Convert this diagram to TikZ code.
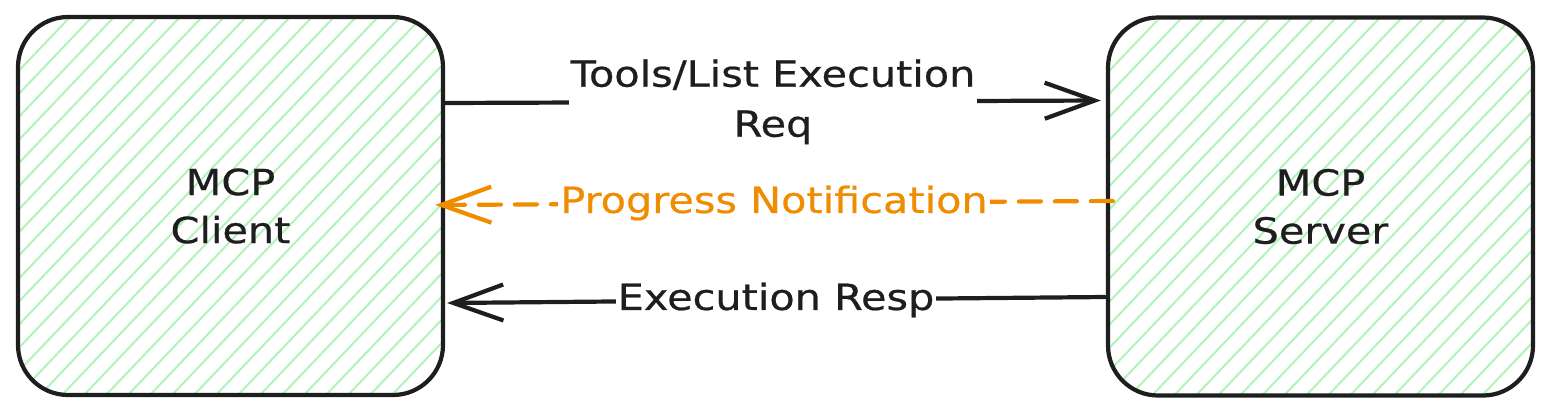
\documentclass[tikz,border=0pt]{standalone}
\usepackage{fontspec}
\setmainfont{DejaVu Sans}[FakeStretch=1.15,FakeBold=0.6]
\usetikzlibrary{arrows.meta}
\definecolor{hatchc}{HTML}{B2F2BB}
\definecolor{ink}{HTML}{1E1E1E}
\definecolor{orng}{HTML}{F08C00}
\tikzset{
  box/.style={draw=ink, line width=2.1pt, rounded corners=25pt,
    minimum width=212.5pt, minimum height=189pt, inner sep=0pt,
    align=center, text=ink, font=\fontsize{18}{24}\selectfont,
    path picture={
      \foreach \k in {-19,...,21}{
        \draw[hatchc, line width=1pt]
          ([xshift=\k*11pt]path picture bounding box.south west) -- ++(200pt,210pt);
      }
    }},
  arr/.style={draw=ink, line width=2.1pt, line cap=round,
    -{Straight Barb[length=25pt,width=18pt]}},
  darr/.style={draw=orng, line width=2.1pt, line cap=round,
    dash pattern=on 11pt off 7pt,
    -{Straight Barb[length=25pt,width=18pt]}},
  lbl/.style={fill=white, inner xsep=1pt, inner ysep=0pt, align=center,
    text=ink, font=\fontsize{18}{25}\selectfont},
}
\begin{document}
\begin{tikzpicture}[x=0.5pt,y=-0.5pt]
\useasboundingbox (0,0) rectangle (1551,414);
\node[box] (client) at (230.5,206) {MCP\\Client};
\node[box] (server) at (1320.5,206.5) {MCP\\Server};
\draw[arr] ([yshift=51.5pt]client.east) -- node[lbl] (l1) {Tools/List Execution\\Req} ([xshift=-2.5pt,yshift=53pt]server.west);
\draw[darr] ([xshift=3.5pt,yshift=2.75pt]server.west) -- node[lbl, text=orng] (l2) {Progress Notification} ([xshift=-5pt,yshift=0.5pt]client.east);
\draw[arr] ([xshift=-0.5pt,yshift=-45.25pt]server.west) -- node[lbl] (l3) {Execution Resp} ([xshift=1pt,yshift=-48.5pt]client.east);
\end{tikzpicture}
\end{document}
